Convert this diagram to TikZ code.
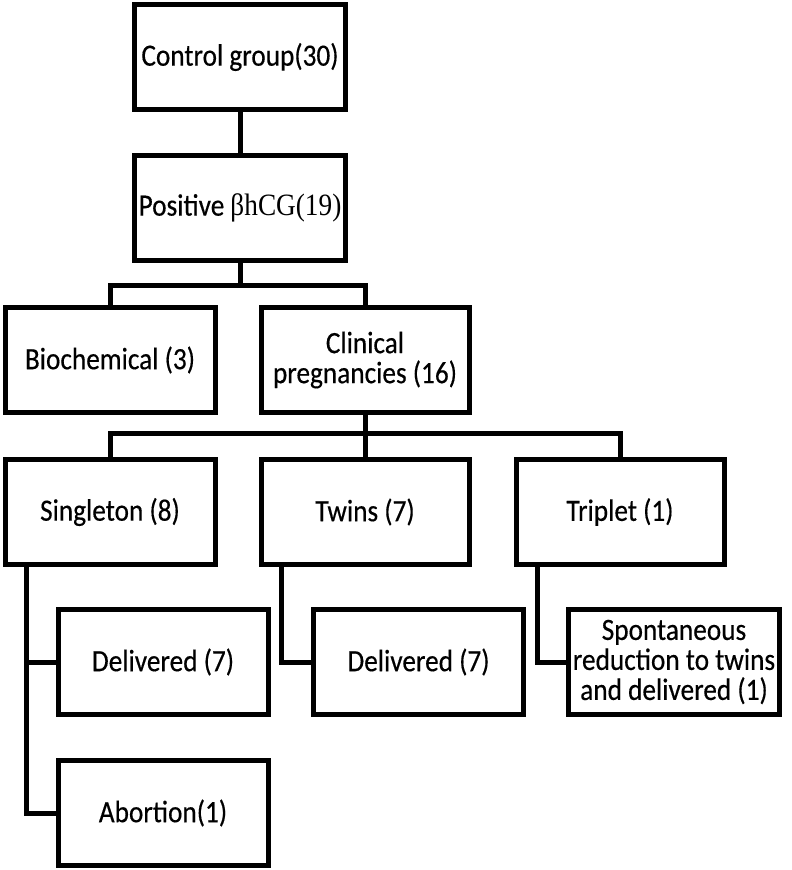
\documentclass[tikz,border=0pt]{standalone}
\usepackage{fontspec}
\setmainfont{Carlito}[FakeStretch=0.88,FakeBold=0.4]
\newfontfamily\hcgfont{Liberation Serif}[FakeStretch=0.88]
\begin{document}
\begin{tikzpicture}[line join=miter,line width=5bp,
  box/.style={draw=black,rectangle,minimum width=210bp,minimum height=105bp,inner sep=2bp,align=center,font=\fontsize{31bp}{30bp}\selectfont},]
%%
\useasboundingbox (0bp,0bp) rectangle (792bp,-870bp);
\node (node_control) at (240bp,-57bp) [box,minimum width=211bp] {Control group(30)};
  \node (node_positive) at (240bp,-208bp) [box,minimum width=211bp] {Positive {\hcgfont βhCG(19)}};
  \node (node_biochem) at (110bp,-360bp) [box] {Biochemical (3)};
  \node (node_clinical) at (365bp,-360bp) [box,minimum width=208bp] {Clinical\\pregnancies (16)};
  \node (node_singleton) at (110bp,-512bp) [box] {Singleton (8)};
  \node (node_twins) at (365bp,-512bp) [box,minimum width=208bp] {Twins (7)};
  \node (node_triplet) at (620bp,-512bp) [box,minimum width=208bp] {Triplet (1)};
  \node (node_deliv_1) at (163bp,-662bp) [box] {Delivered (7)};
  \node (node_abortion) at (163bp,-813bp) [box] {Abortion(1)};
  \node (node_deliv_2) at (418.5bp,-662bp) [box] {Delivered (7)};
  \node (node_reduction) at (674bp,-662bp) [box,minimum width=211bp,inner xsep=0bp] {Spontaneous\\reduction to twins\\and delivered (1)};
%
\coordinate (split_1) at (240bp,-285bp);
  \coordinate (split_2) at (365bp,-433bp);
  \draw [black] (node_control) -- (node_positive);
  \draw [black] (node_positive) -- (split_1);
  \draw [black] (node_biochem) |- (split_1) -| (node_clinical);
  \draw [black] (node_clinical) -- (split_2);
  \draw [black] (node_singleton) |- (split_2) -| (node_triplet);
  \draw [black] (split_2) -- (node_twins);
  \draw [black] ([xshift=-84bp]node_singleton.south) |- (node_deliv_1.west);
  \draw [black] ([xshift=-84bp]node_singleton.south) |- (node_abortion.west);
  \draw [black] ([xshift=-84bp]node_twins.south) |- (node_deliv_2.west);
  \draw [black] ([xshift=-83bp]node_triplet.south) |- (node_reduction.west);
%
\end{tikzpicture}
\end{document}
